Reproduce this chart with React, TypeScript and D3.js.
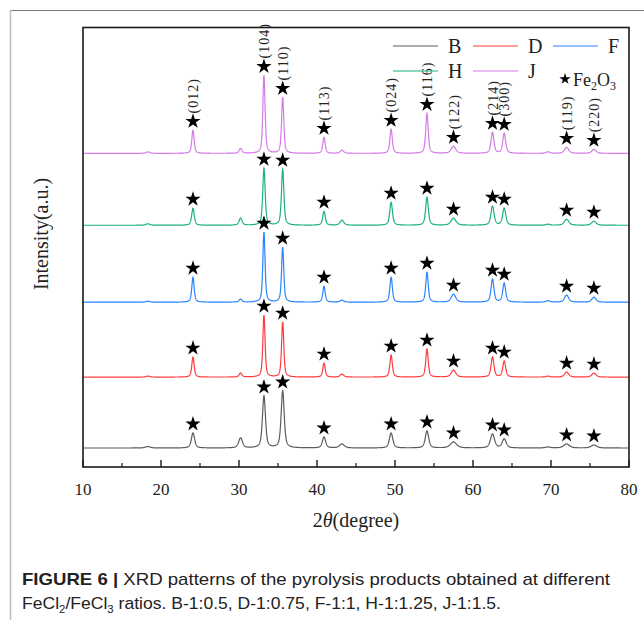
import React from 'react';
import * as d3 from 'd3';

// ---------- data ----------
const seriesNames = ['B', 'D', 'F', 'H', 'J'];
const seriesColors = ['#5c5c5c', '#ff3d3d', '#2a84ff', '#1cb27a', '#d57ae8'];
const seriesOffsets = [19, 90, 165, 242, 314];
const seriesBroadening = [1.45, 1.05, 1.05, 1.15, 1.05];

const fe2o3Positions = [24.1, 33.2, 35.6, 40.9, 49.5, 54.1, 57.5, 62.5, 64.0, 72.0, 75.5];
const fe2o3Labels = ['(012)', '(104)', '(110)', '(113)', '(024)', '(116)', '(122)', '(214)', '(300)', '(119)', '(220)'];
const fe2o3Widths = [0.34, 0.32, 0.32, 0.34, 0.36, 0.36, 0.65, 0.42, 0.42, 0.6, 0.6];

const heightsB = [15, 52, 57, 11, 15, 17, 6, 14, 9, 4, 3];
const heightsD = [20, 62, 55, 14, 22, 28, 7, 20, 16, 5, 4];
const heightsF = [25, 70, 55, 16, 25, 30, 8, 23, 19, 7, 5];
const heightsH = [17, 57, 56, 14, 23, 28, 7, 19, 17, 6, 4];
const heightsJ = [23, 78, 56, 16, 24, 40, 7, 21, 20, 6, 4];
const seriesHeights = [heightsB, heightsD, heightsF, heightsH, heightsJ];

const impurityPositions = [18.3, 30.2, 43.2, 69.6];
const impurityWidths = [0.5, 0.4, 0.5, 0.5];
const impurityB = [1.5, 10, 4, 1];
const impurityD = [1, 4, 3, 1];
const impurityF = [1, 3, 2, 1.5];
const impurityH = [1.5, 7, 5, 1];
const impurityJ = [1.5, 5, 3, 1.5];
const seriesImpurities = [impurityB, impurityD, impurityF, impurityH, impurityJ];

const xMajorTicks = [10, 20, 30, 40, 50, 60, 70, 80];
const xMinorTicks = [15, 25, 35, 45, 55, 65, 75];

// ---------- layout ----------
const W = 644;
const H = 620;
const left = 83;
const right = 629;
const top = 27.5;
const bottom = 467;

const serif = '"Liberation Serif", "Times New Roman", serif';
const sans = '"Liberation Sans", Arial, sans-serif';

function profile(x: number, pos: number, fwhm: number, h: number) {
  const hw = fwhm / 2;
  const d = (x - pos) / hw;
  const L = 1 / (1 + d * d);
  const G = Math.exp(-Math.LN2 * d * d);
  return h * (0.55 * L + 0.45 * G);
}

export default function App() {
  const x = d3.scaleLinear().domain([10, 80]).range([left, right]);
  const y = d3.scaleLinear().domain([0, 440]).range([bottom, top]);

  const samples = d3.range(10, 80.0001, 0.02);

  const curves = seriesNames.map((name, si) => {
    const hs = seriesHeights[si];
    const imp = seriesImpurities[si];
    const b = seriesBroadening[si];
    const pts: [number, number][] = samples.map((t) => {
      let v = 0;
      fe2o3Positions.forEach((p, k) => { v += profile(t, p, fe2o3Widths[k] * b, hs[k]); });
      impurityPositions.forEach((p, k) => { v += profile(t, p, impurityWidths[k] * b, imp[k]); });
      return [t, seriesOffsets[si] + v];
    });
    const line = d3.line<[number, number]>().x((d) => x(d[0])).y((d) => y(d[1]));
    return { name, color: seriesColors[si], d: line(pts) as string };
  });

  const starPath = d3.symbol().type(d3.symbolStar).size(72)() as string;
  const smallStar = d3.symbol().type(d3.symbolStar).size(40)() as string;

  const stars: { cx: number; cy: number; key: string }[] = [];
  seriesNames.forEach((n, si) => {
    fe2o3Positions.forEach((p, k) => {
      stars.push({ key: n + k, cx: x(p), cy: y(seriesOffsets[si] + seriesHeights[si][k]) - 9 });
    });
  });

  const jIdx = 4;

  return (
    <svg width={W} height={H} style={{ position: 'absolute', left: 0, top: 0, background: '#fff' }}>
      <rect x={0} y={0} width={W} height={H} fill="#fff" />
      {/* outer page frame */}
      <line x1={10} x2={W} y1={10.5} y2={10.5} stroke="#7a7a7a" strokeWidth={1} />
      <line x1={10.5} x2={10.5} y1={10} y2={H} stroke="#bdbdbd" strokeWidth={1.5} />

      {/* curves */}
      {curves.map((c) => (
        <path key={c.name} d={c.d} fill="none" stroke={c.color} strokeWidth={1.2} />
      ))}

      {/* stars */}
      {stars.map((s) => (
        <path key={s.key} d={starPath} transform={`translate(${s.cx},${s.cy})`} fill="#000" />
      ))}

      {/* hkl labels on J */}
      {fe2o3Positions.map((p, k) => {
        const cy = y(seriesOffsets[jIdx] + seriesHeights[jIdx][k]) - 9;
        const bx = x(p) + 5;
        const by = cy - 8;
        return (
          <text key={'l' + k} transform={`translate(${bx},${by}) rotate(-90)`} fontFamily={serif} fontSize={14} letterSpacing={1} fill="#222">
            {fe2o3Labels[k]}
          </text>
        );
      })}

      {/* plot frame */}
      <rect x={left} y={top} width={right - left} height={bottom - top} fill="none" stroke="#1a1a1a" strokeWidth={1.6} />

      {/* ticks */}
      {xMajorTicks.map((t) => (
        <line key={'M' + t} x1={x(t)} x2={x(t)} y1={bottom} y2={bottom - 7} stroke="#1a1a1a" strokeWidth={1.4} />
      ))}
      {xMinorTicks.map((t) => (
        <line key={'m' + t} x1={x(t)} x2={x(t)} y1={bottom} y2={bottom - 4} stroke="#1a1a1a" strokeWidth={1.2} />
      ))}
      {xMajorTicks.map((t) => (
        <text key={'t' + t} x={x(t)} y={495} textAnchor="middle" fontFamily={serif} fontSize={17} fill="#222">{t}</text>
      ))}

      {/* axis titles */}
      <text x={(left + right) / 2} y={527} textAnchor="middle" fontFamily={serif} fontSize={20} fill="#222">
        2<tspan fontStyle="italic">θ</tspan>(degree)
      </text>
      <text transform={`translate(48,234) rotate(-90)`} textAnchor="middle" fontFamily={serif} fontSize={20} fill="#222">
        Intensity(a.u.)
      </text>

      {/* legend */}
      {seriesNames.map((n, i) => {
        const col = i % 3;
        const row = Math.floor(i / 3);
        const lx = 393 + col * 80;
        const ly = 46 + row * 25;
        return (
          <g key={'lg' + n}>
            <line x1={lx} x2={lx + 45} y1={ly} y2={ly} stroke={seriesColors[i]} strokeWidth={1.1} />
            <text x={lx + 55} y={ly + 7} fontFamily={serif} fontSize={20} fill="#222">{n}</text>
          </g>
        );
      })}
      <path d={smallStar} transform="translate(565,79)" fill="#000" />
      <text x={573} y={86} fontFamily={serif} fontSize={18} fill="#222">
        Fe<tspan fontSize={12} dy={4}>2</tspan><tspan dy={-4}>O</tspan><tspan fontSize={12} dy={4}>3</tspan>
      </text>

      {/* caption */}
      <text x={22} y={585} fontFamily={sans} fontSize={17} fill="#222" textLength={588} lengthAdjust="spacingAndGlyphs">
        <tspan fontWeight="bold">FIGURE 6 | </tspan>XRD patterns of the pyrolysis products obtained at different
      </text>
      <text x={22} y={609} fontFamily={sans} fontSize={17} fill="#222" textLength={479} lengthAdjust="spacingAndGlyphs">
        FeCl<tspan fontSize={11} dy={4}>2</tspan><tspan dy={-4}>/FeCl</tspan><tspan fontSize={11} dy={4}>3</tspan><tspan dy={-4}> ratios. B-1:0.5, D-1:0.75, F-1:1, H-1:1.25, J-1:1.5.</tspan>
      </text>
    </svg>
  );
}
